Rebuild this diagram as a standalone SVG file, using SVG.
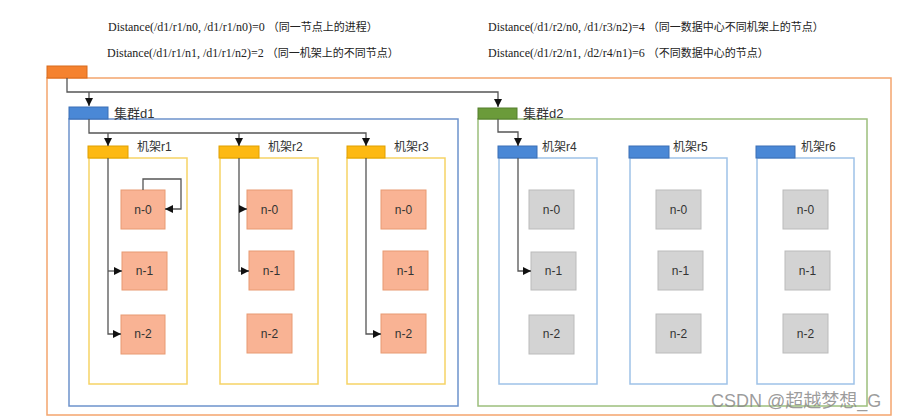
<svg xmlns="http://www.w3.org/2000/svg" width="899" height="420" viewBox="0 0 899 420">
<defs>
<marker id="arr" markerUnits="userSpaceOnUse" markerWidth="9" markerHeight="8" refX="8" refY="4" orient="auto">
<path d="M0,0 L8,4 L0,8 Z" fill="#111"/>
</marker>
<style>
.title{font-family:"Liberation Serif","Noto Sans CJK SC",serif;font-size:12px;fill:#222}
.lbl{font-family:"Liberation Sans","Noto Sans CJK SC",sans-serif;fill:#333}
.nt{font-family:"Liberation Sans","Noto Sans CJK SC",sans-serif;font-size:12px;fill:#333;text-anchor:middle;dominant-baseline:central}
.on{fill:#F9B394;stroke:#E89A72;stroke-width:1}
.gn{fill:#D3D3D3;stroke:#BBBBBB;stroke-width:1}
.yr{fill:none;stroke:#F6D366;stroke-width:1.5}
.br{fill:none;stroke:#9EC2E8;stroke-width:1.5}
.cn{fill:none;stroke:#555;stroke-width:1.3}
</style>
</defs>
<rect width="899" height="420" fill="#fff"/>

<text class="title" x="108" y="31">Distance(/d1/r1/n0, /d1/r1/n0)=0 <tspan font-size="11">（同一节点上的进程）</tspan></text>
<text class="title" x="107" y="57">Distance(/d1/r1/n1, /d1/r1/n2)=2 <tspan font-size="11">（同一机架上的不同节点）</tspan></text>
<text class="title" x="488" y="31">Distance(/d1/r2/n0, /d1/r3/n2)=4 <tspan font-size="11">（同一数据中心不同机架上的节点）</tspan></text>
<text class="title" x="488" y="57">Distance(/d1/r2/n1, /d2/r4/n1)=6 <tspan font-size="11">（不同数据中心的节点）</tspan></text>

<g id="root">
<rect x="47" y="78" width="844" height="337" fill="none" stroke="#F4A56E" stroke-width="1.5"/>
<rect x="47" y="66" width="40" height="12" fill="#F5822F" stroke="#D86A1C" stroke-width="1"/>
</g>

<g id="d1">
<rect x="69" y="119" width="389" height="287" fill="none" stroke="#6D93CC" stroke-width="1.5"/>
<rect x="69" y="107" width="39" height="12" fill="#4A88D6" stroke="#3A6FB5" stroke-width="1"/>
<text class="lbl" x="114" y="118" font-size="13">集群d1</text>
</g>

<g id="d2">
<rect x="478" y="119" width="389" height="287" fill="none" stroke="#9CBF7C" stroke-width="1.5"/>
<rect x="478" y="108" width="39" height="11" fill="#6B9B3A" stroke="#557F2C" stroke-width="1"/>
<text class="lbl" x="523" y="118" font-size="13">集群d2</text>
</g>

<g id="r1">
<rect class="yr" x="89" y="158" width="98" height="226"/>
<rect x="88" y="146" width="40" height="12" fill="#FDB913" stroke="#E0A000" stroke-width="1"/>
<text class="lbl" x="137" y="151" font-size="12">机架r1</text>
</g>
<g id="r2">
<rect class="yr" x="220" y="158" width="98" height="226"/>
<rect x="219" y="146" width="40" height="12" fill="#FDB913" stroke="#E0A000" stroke-width="1"/>
<text class="lbl" x="268" y="151" font-size="12">机架r2</text>
</g>
<g id="r3">
<rect class="yr" x="347" y="158" width="98" height="226"/>
<rect x="347" y="146" width="38" height="12" fill="#FDB913" stroke="#E0A000" stroke-width="1"/>
<text class="lbl" x="394" y="151" font-size="12">机架r3</text>
</g>
<g id="r4">
<rect class="br" x="499" y="158" width="98" height="226"/>
<rect x="498" y="146" width="39" height="12" fill="#4A88D6" stroke="#3A6FB5" stroke-width="1"/>
<text class="lbl" x="542" y="151" font-size="12">机架r4</text>
</g>
<g id="r5">
<rect class="br" x="630" y="158" width="97" height="226"/>
<rect x="629" y="146" width="40" height="12" fill="#4A88D6" stroke="#3A6FB5" stroke-width="1"/>
<text class="lbl" x="673" y="151" font-size="12">机架r5</text>
</g>
<g id="r6">
<rect class="br" x="757" y="158" width="97" height="226"/>
<rect x="756" y="146" width="39" height="12" fill="#4A88D6" stroke="#3A6FB5" stroke-width="1"/>
<text class="lbl" x="801" y="151" font-size="12">机架r6</text>
</g>

<g id="r1-n0"><rect class="on" x="121" y="190" width="44" height="39"/><text class="nt" x="143" y="210">n-0</text></g>
<g id="r1-n1"><rect class="on" x="122" y="252" width="45" height="38"/><text class="nt" x="144.5" y="271">n-1</text></g>
<g id="r1-n2"><rect class="on" x="121" y="315" width="44" height="39"/><text class="nt" x="143" y="334">n-2</text></g>
<g id="r2-n0"><rect class="on" x="247" y="190" width="45" height="39"/><text class="nt" x="269.5" y="210">n-0</text></g>
<g id="r2-n1"><rect class="on" x="249" y="251" width="45" height="39"/><text class="nt" x="271.5" y="271">n-1</text></g>
<g id="r2-n2"><rect class="on" x="247" y="314" width="45" height="39"/><text class="nt" x="269.5" y="334">n-2</text></g>
<g id="r3-n0"><rect class="on" x="381" y="190" width="45" height="39"/><text class="nt" x="403.5" y="210">n-0</text></g>
<g id="r3-n1"><rect class="on" x="383" y="251" width="45" height="39"/><text class="nt" x="405.5" y="271">n-1</text></g>
<g id="r3-n2"><rect class="on" x="381" y="314" width="45" height="39"/><text class="nt" x="403.5" y="334">n-2</text></g>

<g id="r4-n0"><rect class="gn" x="529" y="190" width="45" height="39"/><text class="nt" x="551.5" y="210">n-0</text></g>
<g id="r4-n1"><rect class="gn" x="531" y="252" width="45" height="38"/><text class="nt" x="553.5" y="271">n-1</text></g>
<g id="r4-n2"><rect class="gn" x="529" y="315" width="45" height="39"/><text class="nt" x="551.5" y="334">n-2</text></g>
<g id="r5-n0"><rect class="gn" x="656" y="190" width="45" height="39"/><text class="nt" x="678.5" y="210">n-0</text></g>
<g id="r5-n1"><rect class="gn" x="658" y="251" width="45" height="39"/><text class="nt" x="680.5" y="271">n-1</text></g>
<g id="r5-n2"><rect class="gn" x="656" y="314" width="45" height="39"/><text class="nt" x="678.5" y="334">n-2</text></g>
<g id="r6-n0"><rect class="gn" x="783" y="190" width="45" height="39"/><text class="nt" x="805.5" y="210">n-0</text></g>
<g id="r6-n1"><rect class="gn" x="785" y="251" width="45" height="39"/><text class="nt" x="807.5" y="271">n-1</text></g>
<g id="r6-n2"><rect class="gn" x="783" y="314" width="45" height="39"/><text class="nt" x="805.5" y="334">n-2</text></g>

<g id="connectors">
<path class="cn" d="M67,78 V92 H498 V107" marker-end="url(#arr)"/>
<path class="cn" d="M89,92 V106" marker-end="url(#arr)"/>
<path class="cn" d="M89,119 V133 H366 V146" marker-end="url(#arr)"/>
<path class="cn" d="M108,133 V146" marker-end="url(#arr)"/>
<path class="cn" d="M239,133 V146" marker-end="url(#arr)"/>
<path class="cn" d="M108,158 V334 H121" marker-end="url(#arr)"/>
<path class="cn" d="M108,271 H122" marker-end="url(#arr)"/>
<path class="cn" d="M143,190 V179 H181 V209 H165" marker-end="url(#arr)"/>
<path class="cn" d="M239,158 V271 H249" marker-end="url(#arr)"/>
<path class="cn" d="M239,209 H247" marker-end="url(#arr)"/>
<path class="cn" d="M366,158 V334 H381" marker-end="url(#arr)"/>
<path class="cn" d="M498,119 V132 H518 V146" marker-end="url(#arr)"/>
<path class="cn" d="M518,158 V271 H531" marker-end="url(#arr)"/>
</g>

<text x="711" y="407" font-family="Liberation Sans,Noto Sans CJK SC,sans-serif" font-size="18" fill="#8a8a8a" fill-opacity="0.85">CSDN @超越梦想_G</text>
</svg>
